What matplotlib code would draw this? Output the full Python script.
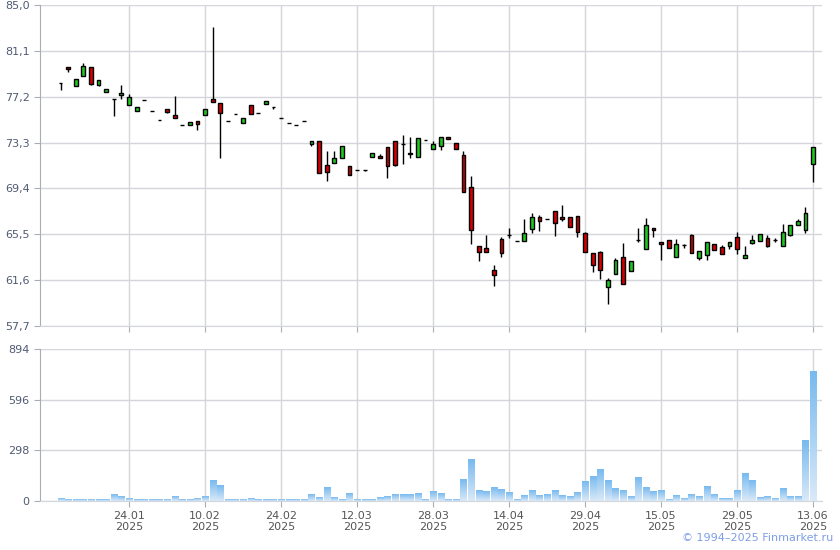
import matplotlib.pyplot as plt
import matplotlib.colors as mcolors
import numpy as np

# daily candles, oldest first
opens = [78.40, 79.76, 78.11, 78.96, 79.76, 78.17, 77.63, 76.97, 77.34, 76.49,
         75.98, 76.94, 76.00, 75.24, 76.17, 75.66, 74.81, 74.81, 75.15, 75.66,
         77.03, 76.69, 75.15, 75.75, 74.98, 76.52, 75.83, 76.60, 76.35, 75.41,
         74.98, 74.81, 75.15, 73.19, 73.44, 71.40, 71.57, 71.97, 71.31, 70.97,
         70.97, 72.08, 72.16, 72.93, 73.44, 73.19, 72.45, 72.08, 73.53, 72.73,
         73.02, 73.78, 73.27, 72.25, 69.52, 64.50, 64.35, 62.45, 65.08, 65.45,
         64.94, 64.89, 65.99, 66.93, 66.84, 67.52, 67.01, 66.93, 67.02, 65.64,
         63.92, 64.01, 61.00, 62.12, 63.58, 62.37, 65.04, 64.27, 66.07, 64.87,
         65.04, 63.58, 64.61, 65.44, 63.49, 63.70, 64.65, 64.43, 64.54, 65.25,
         63.52, 64.79, 64.91, 65.16, 65.02, 64.54, 65.42, 66.26, 65.84, 71.52]
highs = [78.40, 79.76, 78.74, 80.05, 79.76, 78.59, 77.83, 76.97, 78.22, 77.43,
         76.35, 76.94, 76.00, 75.24, 76.17, 77.26, 74.81, 75.04, 75.15, 76.17,
         83.09, 76.69, 75.15, 75.75, 75.35, 76.52, 75.83, 76.86, 76.35, 75.41,
         74.98, 74.81, 75.15, 73.44, 73.44, 72.59, 72.59, 73.02, 71.31, 70.97,
         70.97, 72.42, 72.36, 72.93, 73.44, 73.98, 73.78, 73.70, 73.53, 73.44,
         73.78, 73.78, 73.27, 72.59, 70.46, 64.50, 65.43, 62.87, 65.23, 66.02,
         64.94, 66.84, 67.27, 67.12, 66.84, 67.52, 68.00, 66.93, 67.02, 65.73,
         63.92, 64.09, 61.77, 63.49, 64.78, 63.23, 66.07, 66.85, 66.07, 64.87,
         65.04, 65.10, 64.70, 65.53, 64.09, 64.82, 64.65, 64.60, 64.82, 65.67,
         64.48, 65.47, 65.50, 65.47, 65.16, 66.35, 66.26, 66.83, 67.79, 72.96]
lows = [77.77, 79.31, 78.11, 78.96, 78.20, 78.08, 77.63, 75.55, 76.97, 76.49,
        75.98, 76.94, 76.00, 75.24, 75.80, 75.41, 74.81, 74.81, 74.35, 75.66,
        76.77, 71.96, 75.15, 75.75, 74.98, 75.75, 75.83, 76.60, 76.17, 75.41,
        74.98, 74.81, 75.15, 72.99, 70.72, 70.03, 71.57, 71.97, 70.52, 70.97,
        70.90, 72.08, 71.97, 70.26, 71.28, 71.48, 71.97, 72.08, 73.53, 72.73,
        72.65, 73.58, 72.73, 69.10, 64.67, 63.27, 63.98, 61.12, 63.53, 65.20,
        64.94, 64.89, 65.62, 65.79, 66.84, 65.37, 66.64, 66.08, 65.30, 64.01,
        62.26, 61.66, 59.59, 62.12, 61.26, 62.37, 64.81, 64.27, 65.30, 63.29,
        64.35, 63.58, 64.35, 63.92, 63.32, 63.30, 64.14, 63.80, 64.26, 63.86,
        63.52, 64.68, 64.91, 64.43, 64.88, 64.54, 65.33, 66.26, 65.64, 69.97]
closes = [78.40, 79.56, 78.74, 79.85, 78.25, 78.59, 77.83, 76.97, 77.54, 77.20,
          76.35, 76.94, 76.00, 75.24, 75.89, 75.41, 74.81, 75.04, 74.89, 76.17,
          76.77, 75.80, 75.15, 75.75, 75.35, 75.75, 75.83, 76.86, 76.35, 75.41,
          74.98, 74.81, 75.15, 73.44, 70.72, 70.80, 71.99, 73.02, 70.52, 70.97,
          70.97, 72.42, 71.97, 71.28, 71.37, 73.19, 72.31, 73.70, 73.53, 73.19,
          73.78, 73.58, 72.73, 69.10, 65.86, 63.98, 63.98, 62.05, 63.87, 65.45,
          64.94, 65.57, 66.93, 66.59, 66.84, 66.50, 66.81, 66.08, 65.73, 64.01,
          62.89, 62.46, 61.60, 63.32, 61.26, 63.23, 65.04, 66.25, 65.87, 64.67,
          64.35, 64.70, 64.61, 63.92, 64.09, 64.82, 64.14, 63.80, 64.82, 64.23,
          63.72, 65.02, 65.50, 64.54, 65.02, 65.67, 66.26, 66.60, 67.28, 72.96]
volumes = [14, 8, 8, 8, 8, 8, 8, 37, 25, 14,
           8, 8, 8, 8, 8, 25, 8, 8, 14, 25,
           119, 90, 8, 8, 8, 14, 8, 8, 8, 8,
           8, 8, 8, 37, 20, 78, 20, 8, 43, 8,
           8, 8, 20, 25, 37, 37, 37, 43, 8, 55,
           43, 8, 8, 125, 247, 60, 55, 78, 66, 49,
           8, 31, 60, 31, 37, 60, 31, 25, 49, 113,
           142, 183, 119, 72, 60, 25, 136, 78, 55, 60,
           8, 31, 14, 37, 25, 84, 37, 14, 14, 60,
           160, 119, 20, 25, 14, 72, 25, 25, 353, 762]

date_labels = ['24.01\n2025', '10.02\n2025', '24.02\n2025', '12.03\n2025', '28.03\n2025',
               '14.04\n2025', '29.04\n2025', '15.05\n2025', '29.05\n2025', '13.06\n2025']
price_ticks = [57.7, 61.6, 65.5, 69.4, 73.3, 77.2, 81.1, 85.0]
vol_ticks = [0, 298, 596, 894]

grid_c = '#d3d6da'
spine_c = '#a9adb5'

fig = plt.figure(figsize=(8.4, 5.5), dpi=100)
ax = fig.add_axes([40/840, 1-326/550, 782/840, 321/550])
ax2 = fig.add_axes([40/840, 1-501/550, 782/840, 152/550])

idx = np.arange(len(closes))
o = np.array(opens)
c = np.array(closes)
cols = np.where(c > o, '#1ec81e', '#d20000')

ax.vlines(idx, lows, highs, color='black', linewidth=1, zorder=2)
ax.bar(idx, c - o, bottom=o, width=0.5, color=cols, edgecolor='black', linewidth=1, zorder=3)

cmap = mcolors.LinearSegmentedColormap.from_list('vol', ['#dae9f8', '#78baef'])
grad = np.linspace(0, 1, 100).reshape(-1, 1)
bars = ax2.bar(idx, volumes, width=0.8, color='none', zorder=2)
for b in bars:
    x0 = b.get_x()
    h = b.get_height()
    ax2.imshow(grad, extent=[x0, x0 + b.get_width(), 0, h], origin='lower',
               aspect='auto', cmap=cmap, zorder=2)

tick_pos = idx[9::10]
for a in (ax, ax2):
    a.set_xlim(-2.71, 100.18)
    a.set_xticks(tick_pos)
    a.grid(True, color=grid_c, linewidth=1)
    a.set_axisbelow(True)
    for s in ('top', 'right'):
        a.spines[s].set_visible(False)
    a.spines['left'].set_color(spine_c)
    a.spines['bottom'].set_color(grid_c)
    a.tick_params(colors=spine_c, length=4, labelsize=8, labelcolor='#4f5a72')

ax.set_ylim(57.7, 85.0)
ax.set_yticks(price_ticks)
ax.set_yticklabels([('%.1f' % t).replace('.', ',') for t in price_ticks])
ax.set_xticklabels([])

ax2.set_ylim(0, 894)
ax2.set_yticks(vol_ticks)
ax2.set_yticklabels([str(t) for t in vol_ticks])
ax2.set_xticklabels(date_labels, color='#555555', linespacing=1.1)

fig.text(0.992, 0.012, '© 1994–2025 Finmarket.ru', ha='right', va='bottom',
         color='#7f9de6', fontsize=8)

plt.savefig('out.png', dpi=100)
